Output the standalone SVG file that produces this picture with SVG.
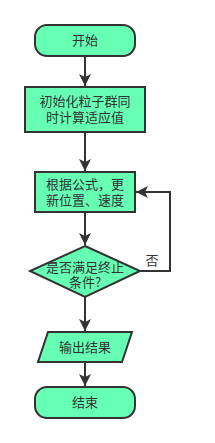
<svg xmlns="http://www.w3.org/2000/svg" width="215" height="443" viewBox="0 0 215 443">
<style>
.n{fill:#66FFB3;stroke:#333333;stroke-width:2}
.t{font-family:"Noto Sans CJK SC","Noto Sans",sans-serif;font-size:13px;fill:#333333;text-anchor:middle}
.c{fill:none;stroke:#333333;stroke-width:2}
</style>
<defs>
<marker id="ah" viewBox="0 0 12 12" refX="12" refY="6" markerWidth="12" markerHeight="12" markerUnits="userSpaceOnUse" orient="auto">
<path d="M0,0 L12,6 L0,12 L3,6 Z" fill="#333333"/>
</marker>
</defs>
<g id="connectors">
<path class="c" d="M85,56 L85,86" marker-end="url(#ah)"/>
<path class="c" d="M85,132 L85,171" marker-end="url(#ah)"/>
<path class="c" d="M85,212 L85,245" marker-end="url(#ah)"/>
<path class="c" d="M85,297 L85,331" marker-end="url(#ah)"/>
<path class="c" d="M85,362 L85,386" marker-end="url(#ah)"/>
<path class="c" d="M140,271 L170,271 L170,192 L136,192" marker-end="url(#ah)"/>
<text class="t" x="152" y="265">否</text>
</g>
<g id="start">
<rect class="n" x="35" y="25" width="100" height="31" rx="12"/>
<text class="t" x="85" y="45">开始</text>
</g>
<g id="init">
<rect class="n" x="25" y="87" width="120" height="45"/>
<text class="t" x="85" y="106">初始化粒子群同</text>
<text class="t" x="85" y="122">时计算适应值</text>
</g>
<g id="update">
<rect class="n" x="35" y="172" width="100" height="40"/>
<text class="t" x="85" y="189">根据公式，更</text>
<text class="t" x="85" y="205">新位置、速度</text>
</g>
<g id="check">
<polygon class="n" points="85,246 140,271 85,297 30,271"/>
<text class="t" x="85" y="272">是否满足终止</text>
<text class="t" x="85" y="287">条件?</text>
</g>
<g id="output">
<polygon class="n" points="48,332 132,332 122,362 38,362"/>
<text class="t" x="85" y="352">输出结果</text>
</g>
<g id="end">
<rect class="n" x="35" y="387" width="100" height="31" rx="12"/>
<text class="t" x="85" y="407">结束</text>
</g>
</svg>
